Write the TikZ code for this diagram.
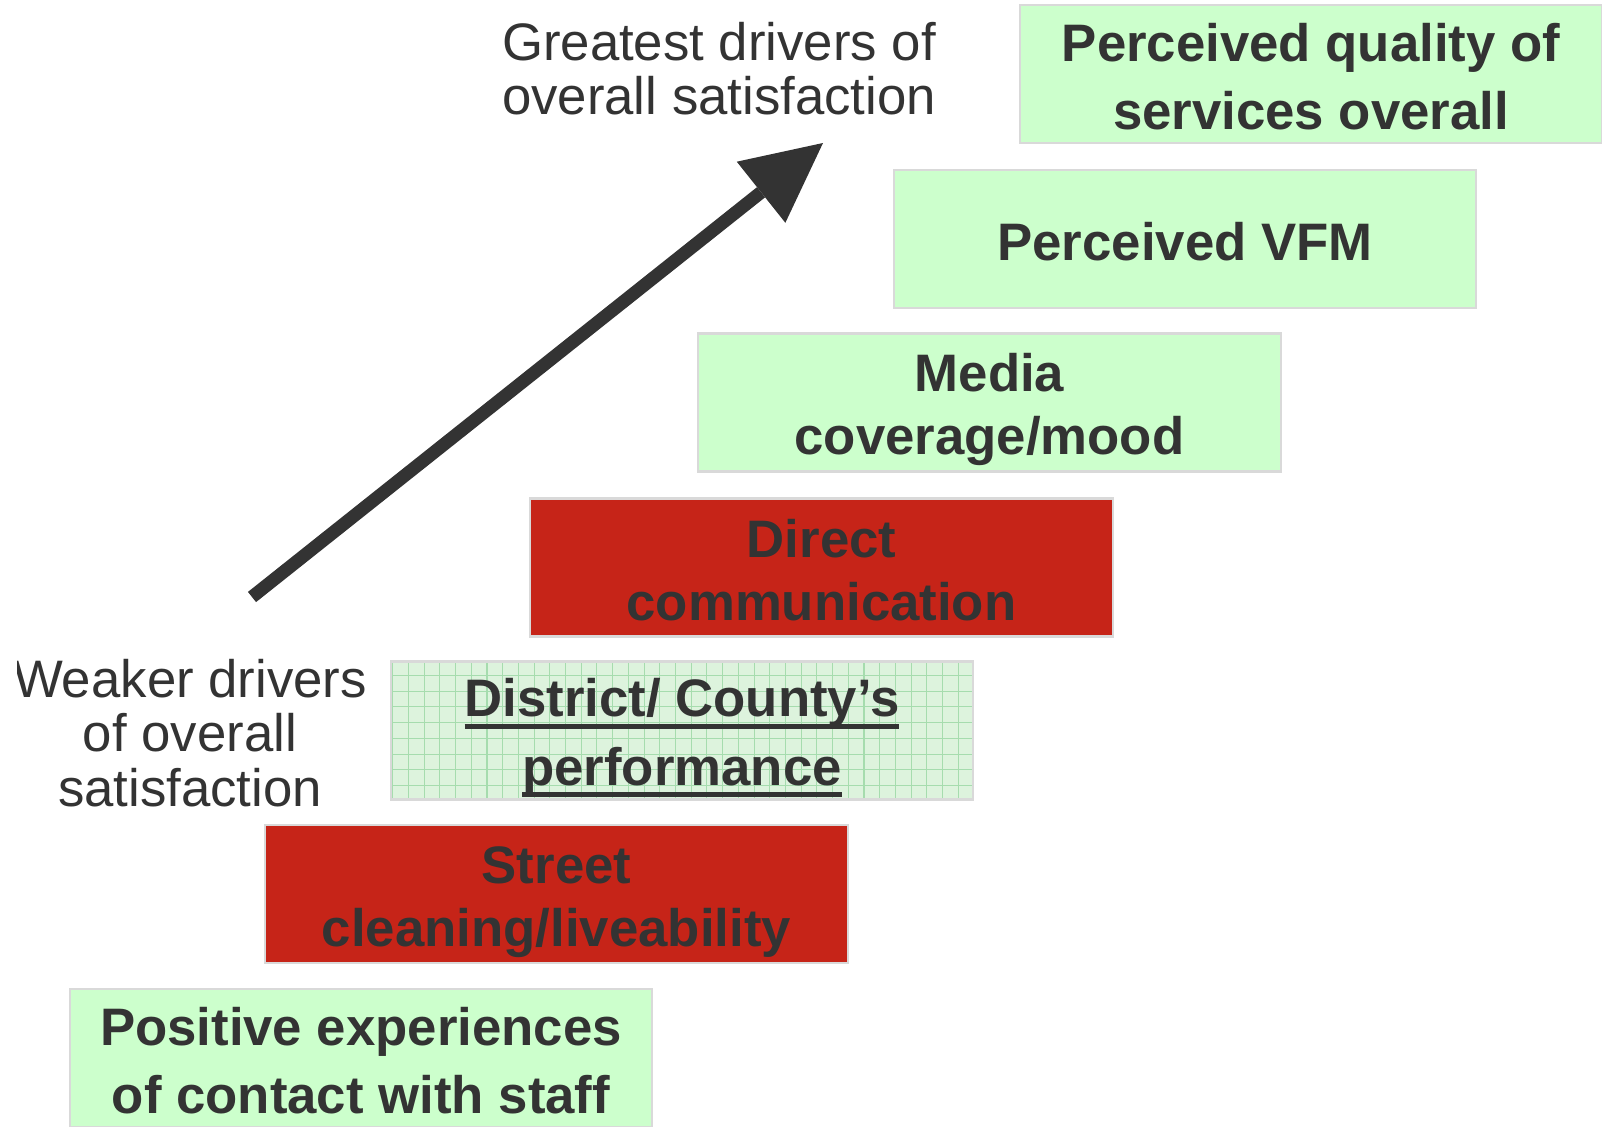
\documentclass[tikz,border=0pt]{standalone}
\usepackage{fontspec}
\setmainfont{Liberation Sans}
\usetikzlibrary{arrows.meta}
\definecolor{txt}{HTML}{333333}
\definecolor{boxgreen}{HTML}{CCFFCC}
\definecolor{boxred}{HTML}{C62418}
\definecolor{edgegray}{HTML}{D9D9D9}
\definecolor{hatchbg}{HTML}{DDF3DD}
\definecolor{hatchline}{HTML}{A6DCAE}
\newcommand{\myul}[1]{\setbox0\hbox{#1}\rlap{\rule[-3.4pt]{\wd0}{1.4pt}}\box0}
\newcommand{\st}{\rule[-2.85pt]{0pt}{17.9pt}}
\begin{document}
\begin{tikzpicture}[x=0.01cm,y=-0.01cm,
  box/.style={draw=edgegray, line width=0.6pt, text=txt,
    font=\bfseries\fontsize{15}{17.9}\selectfont, align=center,
    minimum width=5.82cm, minimum height=1.38cm, inner sep=0pt},
  greenbox/.style={box, fill=boxgreen},
  redbox/.style={box, fill=boxred},
  lbl/.style={text=txt, font=\fontsize{15}{15.4}\selectfont, align=center, inner sep=0pt},
  bigarrow/.style={line width=3.7pt, draw=txt,
    -{Triangle[length=22.5pt,width=22.2pt,line width=0pt]}}]
\useasboundingbox (0,0) rectangle (1602,1127);

\node[greenbox] (quality) at (1311,74) {\st Perceived quality of\\\st services overall};
\node[greenbox] (vfm) at (1185,239) {\st Perceived VFM};
\node[greenbox] (media) at (989.5,402.5) {\st Media\\\st coverage/mood};
\node[redbox] (direct) at (821.5,567.5) {\st Direct\\\st communication};

\node[box, fill=hatchbg] (district) at (682,730.5) {};
\begin{scope}
  \clip (district.south west) rectangle (district.north east);
  \draw[hatchline, line width=0.3pt, step=0.157cm] (district.south west) grid (district.north east);
\end{scope}
\node[box] (districtlabel) at (district) {\st\myul{District/ County’s}\\\st\myul{performance}};

\node[redbox] (street) at (556.5,894) {\st Street\\\st cleaning/liveability};
\node[greenbox] (positive) at (361,1058) {\st Positive experiences\\\st of contact with staff};

\node[lbl] (greatest) at (719,69) {Greatest drivers of\\overall satisfaction};
\begin{scope}
  \clip (17,0) rectangle (1602,1127);
  \node[lbl] (weaker) at (190,733) {Weaker drivers\\of overall\\satisfaction};
\end{scope}

\coordinate (arrowstart) at (252,597);
\coordinate (arrowtip) at (823,143);
\draw[bigarrow] (arrowstart) -- (arrowtip);
\end{tikzpicture}
\end{document}
